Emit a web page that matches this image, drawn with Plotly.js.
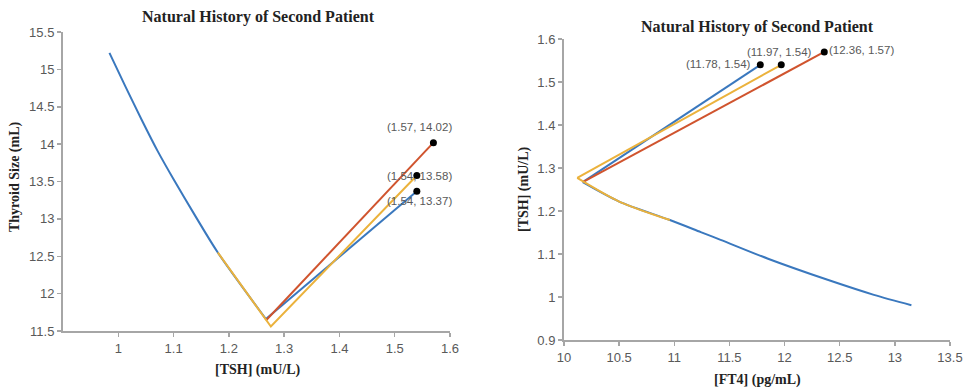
<!DOCTYPE html>
<html>
<head>
<meta charset="utf-8">
<script src="https://cdn.plot.ly/plotly-3.0.1.min.js"></script>
<style>html,body{margin:0;padding:0;background:#fff;}#chart{width:969px;height:388px;}</style>
</head>
<body>
<div id="chart"></div>
<script>
// ---- Left chart data: [TSH] vs Thyroid Size ----
const leftBlueTSH  = [0.984, 1.013, 1.042, 1.071, 1.10, 1.14, 1.18, 1.267, 1.54];
const leftBlueSize = [15.22, 14.77, 14.33, 13.91, 13.53, 13.03, 12.55, 11.66, 13.37];
const leftGoldTSH  = [1.18, 1.276, 1.54];
const leftGoldSize = [12.55, 11.56, 13.58];
const leftRedTSH   = [1.267, 1.57];
const leftRedSize  = [11.64, 14.02];
const leftEndTSH   = [1.57, 1.54, 1.54];
const leftEndSize  = [14.02, 13.58, 13.37];

// ---- Right chart data: [FT4] vs [TSH] ----
const rightBlueFT4 = [13.15, 12.81, 12.39, 11.85, 11.42, 11.24, 10.96, 10.5, 10.17, 11.78];
const rightBlueTSH = [0.981, 1.005, 1.04, 1.089, 1.133, 1.151, 1.179, 1.222, 1.267, 1.54];
const rightGoldFT4 = [10.96, 10.5, 10.12, 11.97];
const rightGoldTSH = [1.179, 1.222, 1.277, 1.54];
const rightRedFT4  = [10.17, 12.36];
const rightRedTSH  = [1.267, 1.57];
const rightEndFT4  = [11.78, 11.97, 12.36];
const rightEndTSH  = [1.54, 1.54, 1.57];

// ---- Tick labels ----
const leftXTicks  = [1, 1.1, 1.2, 1.3, 1.4, 1.5, 1.6];
const leftYTicks  = [11.5, 12, 12.5, 13, 13.5, 14, 14.5, 15, 15.5];
const rightXTicks = [10, 10.5, 11, 11.5, 12, 12.5, 13, 13.5];
const rightYTicks = [0.9, 1, 1.1, 1.2, 1.3, 1.4, 1.5, 1.6];

const chartTitle = 'Natural History of Second Patient';

// ---- styles ----
const BLUE = '#3A78BE', GOLD = '#EBB23C', RED = '#D0542E';
const leftLabelShift  = [[-14, 16], [3, 0], [3, -10]];
const rightLabelShift = [[-42, 1], [-2, 13], [37, 2]];

function line(x, y, color, xa, ya, smooth) {
  return {x, y, type: 'scatter', mode: 'lines', xaxis: xa, yaxis: ya,
          line: {color, width: 2, shape: smooth ? 'spline' : 'linear', smoothing: 0.8},
          hoverinfo: 'skip', showlegend: false};
}
function dots(x, y, xa, ya) {
  return {x, y, type: 'scatter', mode: 'markers', xaxis: xa, yaxis: ya,
          marker: {color: '#000', size: 7}, hoverinfo: 'skip', showlegend: false};
}
// split a trajectory at its turning point (index k): smooth curve before, straight after
function split(x, y, k, color, xa, ya) {
  return [line(x.slice(0, k + 1), y.slice(0, k + 1), color, xa, ya, true),
          line(x.slice(k), y.slice(k), color, xa, ya, false)];
}

const data = [
  ...split(leftBlueTSH, leftBlueSize, leftBlueTSH.length - 2, BLUE, 'x', 'y'),
  line(leftRedTSH, leftRedSize, RED, 'x', 'y'),
  line(leftGoldTSH, leftGoldSize, GOLD, 'x', 'y'),
  dots(leftEndTSH, leftEndSize, 'x', 'y'),
  ...split(rightBlueFT4, rightBlueTSH, rightBlueFT4.length - 2, BLUE, 'x2', 'y2'),
  line(rightRedFT4, rightRedTSH, RED, 'x2', 'y2'),
  ...split(rightGoldFT4, rightGoldTSH, rightGoldFT4.length - 2, GOLD, 'x2', 'y2'),
  dots(rightEndFT4, rightEndTSH, 'x2', 'y2')
];

const tickFont = {family: 'Liberation Sans, Arial, sans-serif', size: 13, color: '#595959'};
function axis(extra) {
  return Object.assign({
    showgrid: false, zeroline: false, showline: true, linecolor: '#A6A6A6', linewidth: 2,
    ticks: 'outside', ticklen: 4, tickwidth: 1.5, tickcolor: '#A6A6A6',
    tickfont: tickFont, tickmode: 'array', fixedrange: true
  }, extra);
}
const fmt = v => String(v);

const serifBold = (size) => ({family: 'Liberation Serif, Times New Roman, serif', size, color: '#222'});
const annotations = [
  {text: '<b>' + chartTitle + '</b>', x: 258/969, y: 1 - 17/388, xref: 'paper', yref: 'paper', showarrow: false, font: serifBold(16), xanchor: 'center', yanchor: 'middle'},
  {text: '<b>' + chartTitle + '</b>', x: 757/969, y: 1 - 27/388, xref: 'paper', yref: 'paper', showarrow: false, font: serifBold(16), xanchor: 'center', yanchor: 'middle'},
  {text: '<b>[TSH] (mU/L)</b>', x: 258/969, y: 1 - 370/388, xref: 'paper', yref: 'paper', showarrow: false, font: serifBold(14), xanchor: 'center', yanchor: 'middle'},
  {text: '<b>Thyroid Size (mL)</b>', x: 15/969, y: 1 - 177/388, xref: 'paper', yref: 'paper', showarrow: false, font: serifBold(14), textangle: -90, xanchor: 'center', yanchor: 'middle'},
  {text: '<b>[FT4] (pg/mL)</b>', x: 757/969, y: 1 - 380/388, xref: 'paper', yref: 'paper', showarrow: false, font: serifBold(14), xanchor: 'center', yanchor: 'middle'},
  {text: '<b>[TSH] (mU/L)</b>', x: 524/969, y: 1 - 189/388, xref: 'paper', yref: 'paper', showarrow: false, font: serifBold(14), textangle: -90, xanchor: 'center', yanchor: 'middle'}
];
const labelFont = {family: 'Liberation Sans, Arial, sans-serif', size: 11.5, color: '#595959'};
leftEndTSH.forEach((x, i) => annotations.push({
  text: '(' + x.toFixed(2) + ', ' + leftEndSize[i].toFixed(2) + ')', x, y: leftEndSize[i], xref: 'x', yref: 'y',
  showarrow: false, font: labelFont, xshift: leftLabelShift[i][0], yshift: leftLabelShift[i][1]
}));
rightEndFT4.forEach((x, i) => annotations.push({
  text: '(' + x.toFixed(2) + ', ' + rightEndTSH[i].toFixed(2) + ')', x, y: rightEndTSH[i], xref: 'x2', yref: 'y2',
  showarrow: false, font: labelFont, xshift: rightLabelShift[i][0], yshift: rightLabelShift[i][1]
}));

const layout = {
  width: 969, height: 388,
  margin: {l: 0, r: 0, t: 0, b: 0},
  paper_bgcolor: '#fff', plot_bgcolor: '#fff',
  showlegend: false,
  xaxis: axis({domain: [63/969, 450/969], range: [0.9, 1.6], tickvals: leftXTicks, ticktext: leftXTicks.map(fmt), anchor: 'y'}),
  yaxis: axis({domain: [1 - 331/388, 1 - 32/388], range: [11.5, 15.5], tickvals: leftYTicks, ticktext: leftYTicks.map(fmt), anchor: 'x'}),
  xaxis2: axis({domain: [564/969, 950/969], range: [10, 13.5], tickvals: rightXTicks, ticktext: rightXTicks.map(fmt), anchor: 'y2'}),
  yaxis2: axis({domain: [1 - 340/388, 1 - 39/388], range: [0.9, 1.6], tickvals: rightYTicks, ticktext: rightYTicks.map(fmt), anchor: 'x2'}),
  annotations
};

Plotly.newPlot('chart', data, layout, {displayModeBar: false, staticPlot: true});
</script>
</body>
</html>
